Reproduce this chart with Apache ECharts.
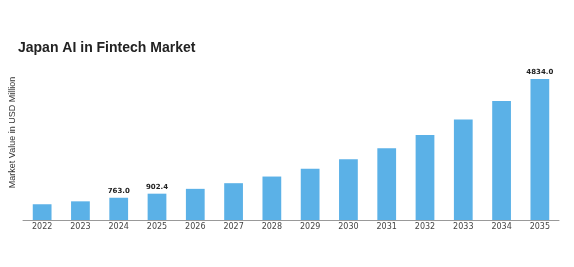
<!DOCTYPE html>
<html>
<head>
<meta charset="utf-8">
<script src="https://cdn.jsdelivr.net/npm/echarts@6/dist/echarts.min.js"></script>
<style>html,body{margin:0;padding:0;background:#fff}#c{width:574px;height:267px}</style>
</head>
<body>
<div id="c"></div>
<script>
var categories = ['2022','2023','2024','2025','2026','2027','2028','2029','2030','2031','2032','2033','2034','2035'];
var values = [540, 640, 763.0, 902.4, 1068, 1262, 1490, 1755, 2080, 2460, 2915, 3450, 4080, 4834.0];
var labelled = ['2024','2025','2035'];

var chart = echarts.init(document.getElementById('c'));
chart.setOption({
  animation: false,
  backgroundColor: '#fff',
  title: {
    text: 'Japan AI in Fintech Market',
    left: 18, top: 41, padding: 0,
    textStyle: {fontFamily: 'Liberation Sans, Arial, sans-serif', fontSize: 14, fontWeight: 'bold', color: '#222'}
  },
  grid: {left: 22, right: 15, top: 45, bottom: 47},
  xAxis: {
    type: 'category',
    data: categories,
    axisLine: {lineStyle: {color: '#999', width: 1}},
    axisTick: {show: false},
    axisLabel: {fontFamily: 'DejaVu Sans, sans-serif', fontSize: 8, color: '#444', margin: 3}
  },
  yAxis: {
    type: 'value',
    min: 0, max: 6000,
    name: 'Market Value in USD Million',
    nameLocation: 'middle',
    nameGap: 6,
    nameTextStyle: {fontFamily: 'Liberation Sans, Arial, sans-serif', fontSize: 9, color: '#333'},
    axisLine: {show: false},
    axisTick: {show: false},
    axisLabel: {show: false},
    splitLine: {show: false}
  },
  series: [{
    type: 'bar',
    barWidth: '49%',
    data: values.map(function (v, i) {
      return {
        value: v,
        label: {show: labelled.indexOf(categories[i]) >= 0}
      };
    }),
    itemStyle: {color: '#5bb1e7'},
    label: {
      position: 'top',
      distance: 3,
      formatter: function (p) { return p.value.toFixed(1); },
      fontFamily: 'DejaVu Sans, sans-serif',
      fontSize: 7,
      fontWeight: 'bold',
      color: '#222'
    }
  }]
});
</script>
</body>
</html>
